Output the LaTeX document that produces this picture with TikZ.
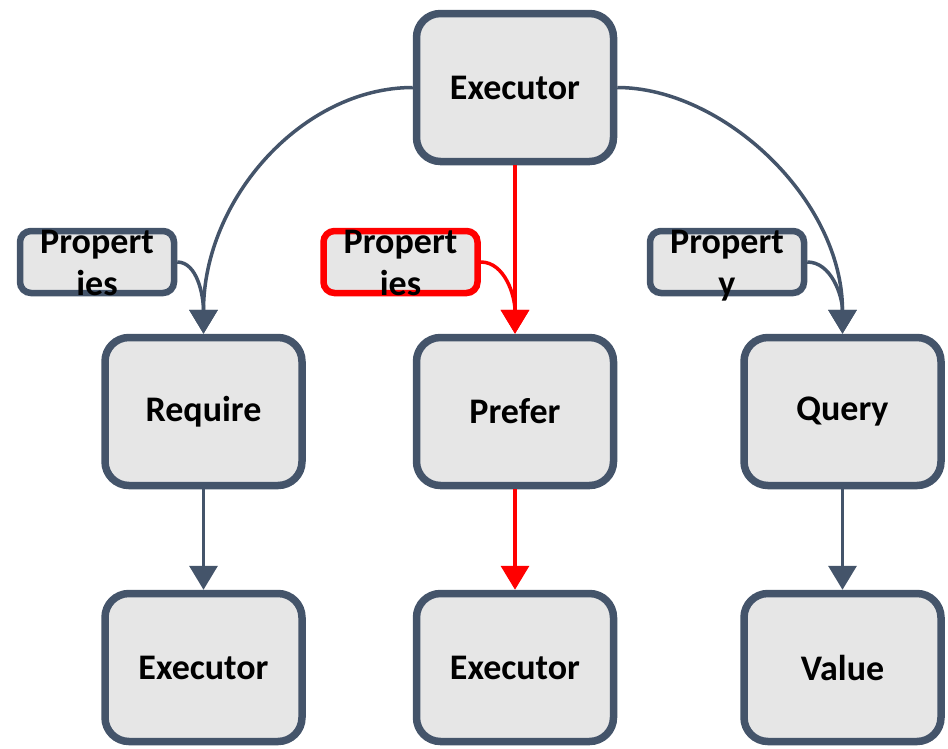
\documentclass[tikz,border=0pt]{standalone}
\usepackage{fontspec}
\setmainfont{Carlito}
\usetikzlibrary{arrows.meta}
\definecolor{slate}{HTML}{44546A}
\definecolor{boxfill}{HTML}{E6E6E6}
\definecolor{hot}{HTML}{FF0000}
\tikzset{
  mainbox/.style={draw=slate, fill=boxfill, line width=7.5pt, rounded corners=24pt,
    minimum width=197pt, minimum height=148pt, inner sep=0pt,
    font=\fontsize{36}{42}\selectfont\bfseries},
  propbox/.style={draw=slate, fill=boxfill, line width=6.5pt, rounded corners=11pt,
    minimum width=154pt, minimum height=62pt, inner sep=0pt},
  hotbox/.style={propbox, draw=hot},
  proptext/.style={anchor=base, inner sep=0pt, font=\fontsize{36}{42}\selectfont\bfseries},
  link/.style={draw=slate, line width=3.5pt, -{Triangle[length=24pt,width=28pt]}},
  hotlink/.style={link, draw=hot, -{Triangle[length=24pt,width=28pt]}},
}
\begin{document}
\begin{tikzpicture}[x=1pt, y=-1pt]
\useasboundingbox (0,0) rectangle (948,748);

% main boxes
\node[mainbox] (top)  at (515,87.5)  {Executor};
\node[mainbox] (req)  at (203.5,411.5) {Require};
\node[mainbox] (pref) at (515,411.5) {Prefer};
\node[mainbox] (qry)  at (842.5,411.5) {Query};
\node[mainbox] (exl)  at (203.5,667.5) {Executor};
\node[mainbox] (exm)  at (515,667.5) {Executor};
\node[mainbox] (val)  at (842.5,667.5) {Value};

% property boxes (text overflows the frame)
\node[propbox] (pl) at (97,262) {};
\node[hotbox]  (pm) at (400.5,262) {};
\node[propbox] (pr) at (727,262) {};
\node[proptext] (pl1) at ([yshift=9pt]pl.center) {Propert};
\node[proptext] (pl2) at ([yshift=-33pt]pl.center) {ies};
\node[proptext] (pm1) at ([yshift=9pt]pm.center) {Propert};
\node[proptext] (pm2) at ([yshift=-33pt]pm.center) {ies};
\node[proptext] (pr1) at ([yshift=9pt]pr.center) {Propert};
\node[proptext] (pr2) at ([yshift=-33pt]pr.center) {y};

% connectors from the top executor
\draw[link] (top.west) .. controls +(-110,0) and +(0,-135) .. (req.north);
\draw[hotlink] (top.south) -- (pref.north);
\draw[link] (top.east) .. controls +(105,0) and +(0,-135) .. (qry.north);

% property feeds
\draw[link] (pl.east) .. controls +(20,0) and +(0,-38) .. (req.north);
\draw[hotlink] (pm.east) .. controls +(24,0) and +(0,-38) .. (pref.north);
\draw[link] (pr.east) .. controls +(24,0) and +(0,-38) .. (qry.north);

% lower connectors
\draw[link] (req.south) -- (exl.north);
\draw[hotlink] (pref.south) -- (exm.north);
\draw[link] (qry.south) -- (val.north);
\end{tikzpicture}
\end{document}
